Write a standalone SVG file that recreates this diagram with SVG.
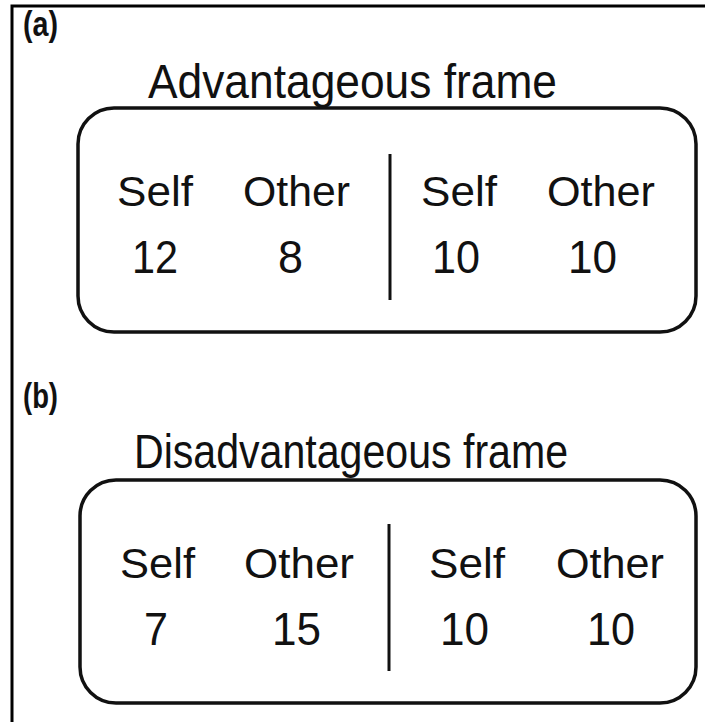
<svg xmlns="http://www.w3.org/2000/svg" width="705" height="722" viewBox="0 0 705 722">
  <style>
    .frame { fill: none; stroke: #000; stroke-width: 3; }
    .box { fill: #fff; stroke: #111; stroke-width: 3.5; }
    .divider { stroke: #111; stroke-width: 3; }
    .panel { font-family: "Liberation Sans", Arial, sans-serif; font-weight: bold; font-size: 35px; fill: #111; }
    .title { font-family: "Liberation Sans", Arial, sans-serif; font-size: 49px; fill: #111; }
    .label { font-family: "Liberation Sans", Arial, sans-serif; font-size: 42px; fill: #111; }
    .value { font-family: "Liberation Sans", Arial, sans-serif; font-size: 46px; fill: #111; }
  </style>
  <rect width="705" height="722" fill="#fff"/>
  <!-- outer border: top and left edges only -->
  <path class="frame" d="M12 722 V6 H705"/>

  <g id="panel-a">
    <text class="panel" x="23" y="36" textLength="35" lengthAdjust="spacingAndGlyphs">(a)</text>
    <text class="title" x="148" y="98" textLength="409" lengthAdjust="spacingAndGlyphs">Advantageous frame</text>
  </g>
  <g id="box-a">
    <rect class="box" x="78" y="108" width="618" height="224" rx="36"/>
    <text class="label" x="117" y="206" textLength="76" lengthAdjust="spacingAndGlyphs">Self</text>
    <text class="label" x="243" y="206" textLength="107" lengthAdjust="spacingAndGlyphs">Other</text>
    <text class="label" x="421" y="206" textLength="76" lengthAdjust="spacingAndGlyphs">Self</text>
    <text class="label" x="547" y="206" textLength="108" lengthAdjust="spacingAndGlyphs">Other</text>
    <text class="value" x="132" y="273" textLength="46" lengthAdjust="spacingAndGlyphs">12</text>
    <text class="value" x="278" y="273" textLength="25" lengthAdjust="spacingAndGlyphs">8</text>
    <text class="value" x="432" y="273" textLength="48" lengthAdjust="spacingAndGlyphs">10</text>
    <text class="value" x="568" y="273" textLength="49" lengthAdjust="spacingAndGlyphs">10</text>
  </g>

  <g id="panel-b">
    <text class="panel" x="23" y="408" textLength="35" lengthAdjust="spacingAndGlyphs">(b)</text>
    <text class="title" x="134" y="468" textLength="434" lengthAdjust="spacingAndGlyphs">Disadvantageous frame</text>
  </g>
  <g id="box-b">
    <rect class="box" x="80" y="480" width="616" height="223" rx="36"/>
    <text class="label" x="120" y="578" textLength="75" lengthAdjust="spacingAndGlyphs">Self</text>
    <text class="label" x="244" y="578" textLength="110" lengthAdjust="spacingAndGlyphs">Other</text>
    <text class="label" x="429" y="578" textLength="76" lengthAdjust="spacingAndGlyphs">Self</text>
    <text class="label" x="556" y="578" textLength="108" lengthAdjust="spacingAndGlyphs">Other</text>
    <text class="value" x="144" y="645" textLength="24" lengthAdjust="spacingAndGlyphs">7</text>
    <text class="value" x="272" y="645" textLength="49" lengthAdjust="spacingAndGlyphs">15</text>
    <text class="value" x="440" y="645" textLength="49" lengthAdjust="spacingAndGlyphs">10</text>
    <text class="value" x="587" y="645" textLength="48" lengthAdjust="spacingAndGlyphs">10</text>
  </g>

  <g id="connectors">
    <line class="divider" x1="390" y1="154" x2="390" y2="300"/>
    <line class="divider" x1="389" y1="524" x2="389" y2="671"/>
  </g>
</svg>
